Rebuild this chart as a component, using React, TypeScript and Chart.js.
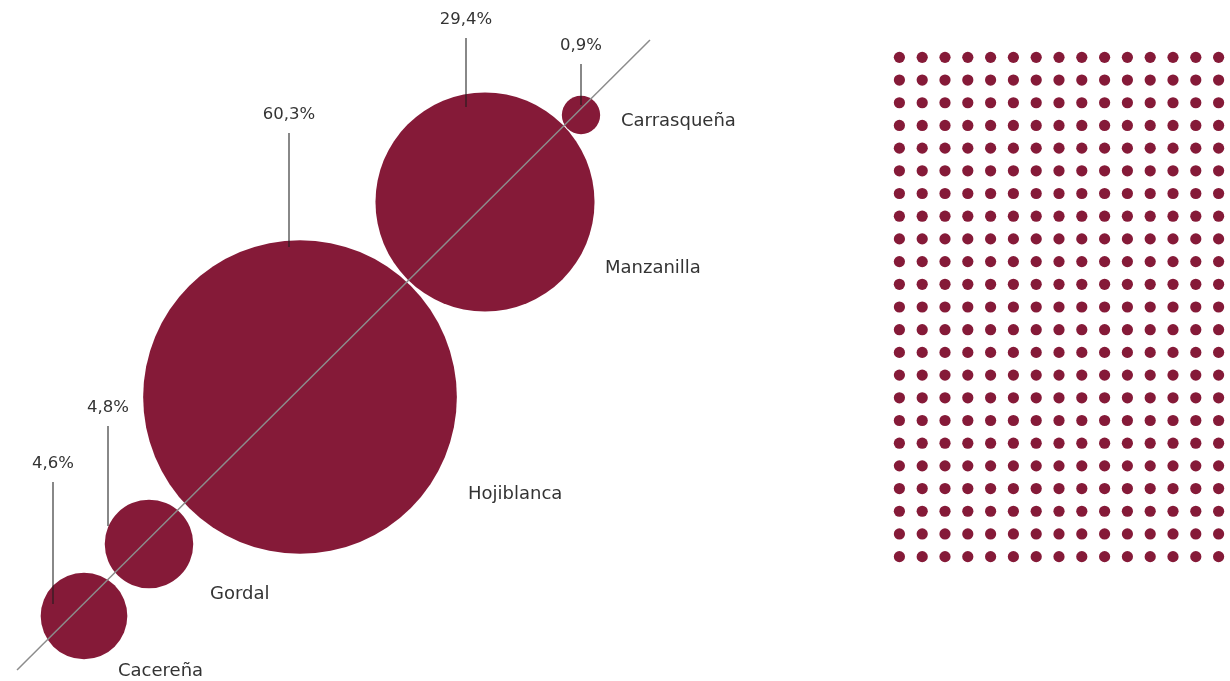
import React, { useEffect, useRef } from "react";
import { Chart, registerables } from "chart.js";

Chart.register(...registerables);

// ---- Data ----
const categories = ["Cacereña", "Gordal", "Hojiblanca", "Manzanilla", "Carrasqueña"];
const shares = [4.6, 4.8, 60.3, 29.4, 0.9];
const shareLabels = ["4,6%", "4,8%", "60,3%", "29,4%", "0,9%"];
// bubble centres along the diagonal (abstract chart units)
const posX = [8.4, 14.9, 30.0, 48.5, 58.1];
const posY = [6.5, 13.7, 28.4, 47.9, 56.6];
// diagonal guide line
const diagonalX = [1.7, 65.0];
const diagonalY = [1.1, 64.1];
// dot grid
const gridColumns = 15;
const gridRows = 23;

// ---- Layout / style (kept apart from data) ----
const RADIUS_PER_SQRT_PCT = 20.2;
const BUBBLE_COLOR = "#851a38";
const TEXT_COLOR = "#333333";
const FONT = "'DejaVu Sans', sans-serif";
// per-bubble annotation offsets (px, relative to bubble centre)
const annotationLayout = [
  { dx: -31, top: -134, bottom: -12, nx: 34, ny: 55 },
  { dx: -41, top: -118, bottom: -18, nx: 61, ny: 50 },
  { dx: -11, top: -264, bottom: -150, nx: 168, ny: 97 },
  { dx: -19, top: -164, bottom: -95, nx: 120, ny: 66 },
  { dx: 0, top: -51, bottom: -10, nx: 40, ny: 6 },
];

const annotationPlugin = {
  id: "bubbleAnnotations",
  afterDatasetsDraw(chart: any) {
    const meta = chart.getDatasetMeta(1);
    const ctx = chart.ctx as CanvasRenderingContext2D;
    ctx.save();
    meta.data.forEach((el: any, i: number) => {
      const { x, y } = el.getProps(["x", "y"], true);
      const L = annotationLayout[i];
      const lx = x + L.dx;
      ctx.strokeStyle = "rgba(30,30,30,0.7)";
      ctx.lineWidth = 1.5;
      ctx.beginPath();
      ctx.moveTo(lx, y + L.top);
      ctx.lineTo(lx, y + L.bottom);
      ctx.stroke();

      ctx.fillStyle = TEXT_COLOR;
      ctx.font = `16.5px ${FONT}`;
      ctx.textAlign = "center";
      ctx.textBaseline = "middle";
      ctx.fillText(shareLabels[i], lx, y + L.top - 18);

      ctx.font = `18px ${FONT}`;
      ctx.textAlign = "left";
      ctx.fillText(categories[i], x + L.nx, y + L.ny);
    });
    ctx.restore();
  },
};

function BubbleChart() {
  const ref = useRef<HTMLCanvasElement>(null);
  useEffect(() => {
    if (!ref.current) return;
    const chart = new Chart(ref.current, {
      type: "bubble",
      data: {
        datasets: [
          {
            type: "line",
            data: diagonalX.map((x, i) => ({ x, y: diagonalY[i] })),
            borderColor: "#8c8c8c",
            borderWidth: 1.5,
            pointRadius: 0,
            fill: false,
          } as any,
          {
            type: "bubble",
            data: categories.map((_, i) => ({
              x: posX[i],
              y: posY[i],
              r: RADIUS_PER_SQRT_PCT * Math.sqrt(shares[i]),
            })),
            backgroundColor: BUBBLE_COLOR,
            borderWidth: 0,
            hoverRadius: 0,
          } as any,
        ],
      },
      options: {
        animation: false,
        responsive: false,
        maintainAspectRatio: false,
        layout: { autoPadding: false, padding: 0 },
        plugins: { legend: { display: false }, tooltip: { enabled: false } },
        events: [],
        scales: {
          x: { type: "linear", min: 0, max: 86, display: false },
          y: { type: "linear", min: 0, max: 68.1, display: false },
        },
      },
      plugins: [annotationPlugin],
    } as any);
    return () => chart.destroy();
  }, []);
  return (
    <canvas
      ref={ref}
      width={860}
      height={681}
      style={{ position: "absolute", left: 0, top: 0, width: 860, height: 681 }}
    />
  );
}

function DotGrid() {
  const ref = useRef<HTMLCanvasElement>(null);
  useEffect(() => {
    if (!ref.current) return;
    const points: { x: number; y: number }[] = [];
    for (let r = 0; r < gridRows; r++) {
      for (let c = 0; c < gridColumns; c++) points.push({ x: c, y: r });
    }
    const chart = new Chart(ref.current, {
      type: "scatter",
      data: {
        datasets: [
          {
            data: points,
            backgroundColor: BUBBLE_COLOR,
            borderWidth: 0,
            pointRadius: 5.6,
            pointHoverRadius: 5.6,
          },
        ],
      },
      options: {
        animation: false,
        responsive: false,
        maintainAspectRatio: false,
        layout: { autoPadding: false, padding: 0 },
        plugins: { legend: { display: false }, tooltip: { enabled: false } },
        events: [],
        scales: {
          x: { type: "linear", min: -0.5, max: gridColumns - 0.5, display: false },
          y: { type: "linear", min: -0.5, max: gridRows - 0.5, reverse: true, display: false },
        },
      },
    } as any);
    return () => chart.destroy();
  }, []);
  return (
    <canvas
      ref={ref}
      width={342}
      height={522}
      style={{ position: "absolute", left: 888, top: 46, width: 342, height: 522 }}
    />
  );
}

export default function App() {
  return (
    <div
      style={{
        position: "absolute",
        left: 0,
        top: 0,
        width: 1230,
        height: 681,
        background: "#ffffff",
        overflow: "hidden",
      }}
    >
      <BubbleChart />
      <DotGrid />
    </div>
  );
}
